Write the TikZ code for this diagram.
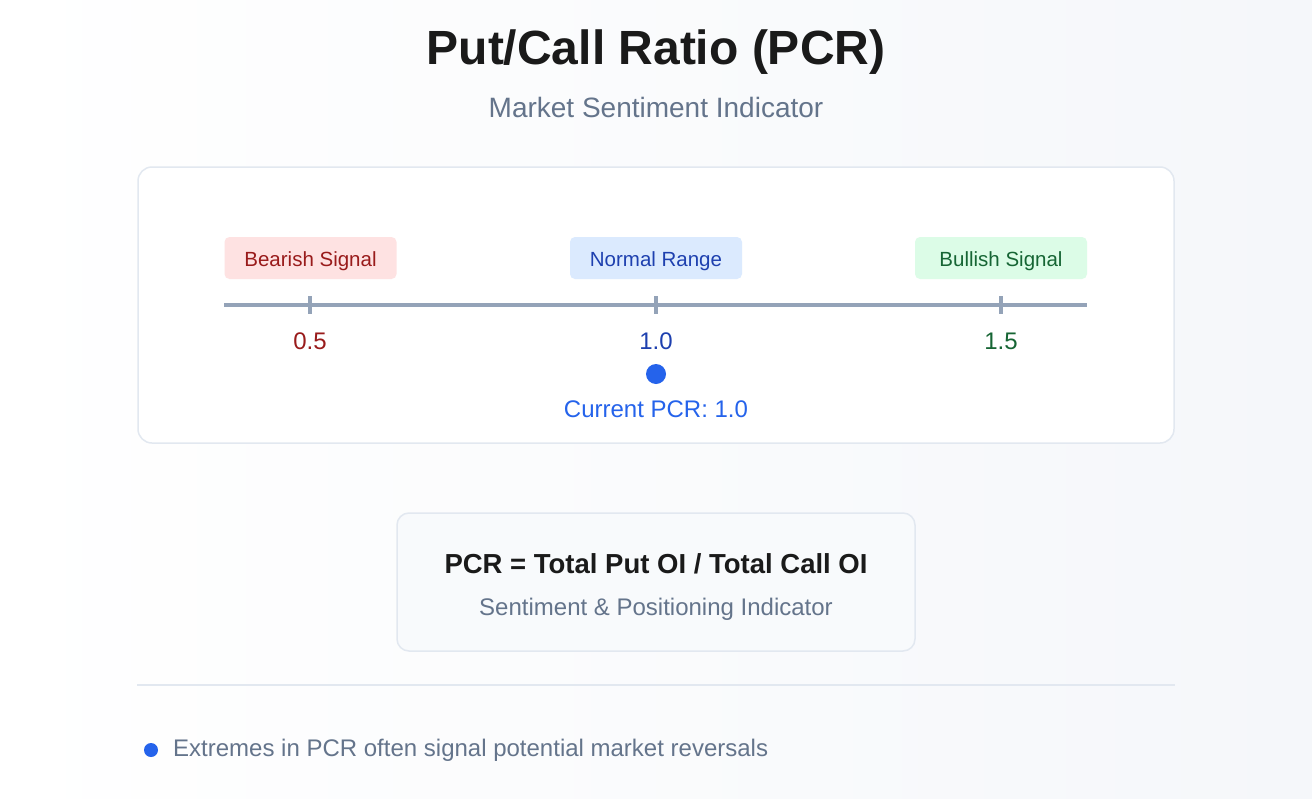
\documentclass[tikz,border=0pt]{standalone}
\usepackage{fontspec}
\setmainfont{Liberation Sans}
\usetikzlibrary{calc}
\definecolor{bgA}{HTML}{FFFFFF}
\definecolor{bgB}{HTML}{F5F7FA}
\definecolor{titlec}{HTML}{1A1A1A}
\definecolor{slate}{HTML}{64748B}
\definecolor{bordc}{HTML}{E2E8F0}
\definecolor{axisc}{HTML}{94A3B8}
\definecolor{redT}{HTML}{991B1B}
\definecolor{redF}{HTML}{FEE2E2}
\definecolor{bluT}{HTML}{1E40AF}
\definecolor{bluF}{HTML}{DBEAFE}
\definecolor{grnT}{HTML}{166534}
\definecolor{grnF}{HTML}{DCFCE7}
\definecolor{accent}{HTML}{2563EB}
\definecolor{formF}{HTML}{F8FAFC}
\newcommand{\fs}[1]{\fontsize{#1}{#1}\selectfont}
\tikzset{
  sigbox/.style={rounded corners=5pt, minimum width=172pt, minimum height=42pt, inner sep=0pt},
  siglbl/.style={font=\fs{20.5}, inner sep=0pt},
  ticklbl/.style={font=\fs{24}, inner sep=0pt},
  tickmark/.style={draw=axisc, line width=3.2pt},
}
\begin{document}
\begin{tikzpicture}[x=1pt,y=-1pt]
\shade[left color=bgA, right color=bgB] (0,0) rectangle (1312,798);
\useasboundingbox (0,0) rectangle (1312,798);
% title
\node[font=\fs{48}\bfseries, text=titlec, inner sep=0pt] (title) at (656,52) {Put/Call Ratio (PCR)};
\node[font=\fs{28}, text=slate, inner sep=0pt] (subtitle) at (656,107) {Market Sentiment Indicator};
% panel
\node[draw=bordc, line width=1.5pt, fill=white, rounded corners=14pt, minimum width=1036pt, minimum height=276pt, inner sep=0pt] (panel) at (656,305) {};
% signal boxes
\node[sigbox, fill=redF] (bear) at (310.5,258) {};
\node[sigbox, fill=bluF] (norm) at (656,258) {};
\node[sigbox, fill=grnF] (bull) at (1001,258) {};
\node[siglbl, text=redT] (bearT) at ($(bear)+(0,3)$) {Bearish Signal};
\node[siglbl, text=bluT] (normT) at ($(norm)+(0,3)$) {Normal Range};
\node[siglbl, text=grnT] (bullT) at ($(bull)+(0,3)$) {Bullish Signal};
% axis
\coordinate (axL) at (224,305);
\coordinate (axR) at (1087,305);
\draw[draw=axisc, line width=3.5pt] (axL) -- (axR);
\coordinate (t1) at (310,305);
\coordinate (t2) at (656,305);
\coordinate (t3) at (1001,305);
\foreach \t in {t1,t2,t3}{
  \draw[tickmark] ($(\t)+(0,-9)$) -- ($(\t)+(0,9)$);
}
\node[ticklbl, text=redT] (l1) at (310,341) {0.5};
\node[ticklbl, text=bluT] (l2) at (656,341) {1.0};
\node[ticklbl, text=grnT] (l3) at (1001,341) {1.5};
% current marker
\node[circle, fill=accent, minimum size=20pt, inner sep=0pt] (dot) at (656,374) {};
\node[font=\fs{24}, text=accent, inner sep=0pt] (cur) at (656,409) {Current PCR: 1.0};
% formula box
\node[draw=bordc, line width=1.5pt, fill=formF, rounded corners=12pt, minimum width=518pt, minimum height=138pt, inner sep=0pt] (formula) at (656,582) {};
\node[font=\fs{27.5}\bfseries, text=titlec, inner sep=0pt] (ftext) at (656,564) {PCR = Total Put OI / Total Call OI};
\node[font=\fs{24}, text=slate, inner sep=0pt] (fsub) at (656,609) {Sentiment \& Positioning Indicator};
% separator
\coordinate (sepL) at (137,685);
\coordinate (sepR) at (1175,685);
\draw[draw=bordc, line width=2.5pt] (sepL) -- (sepR);
% bullet note
\node[circle, fill=accent, minimum size=14pt, inner sep=0pt] (bullet) at (151,750) {};
\node[font=\fs{24}, text=slate, inner sep=0pt, anchor=west] (note) at (173,750) {Extremes in PCR often signal potential market reversals};
\end{tikzpicture}
\end{document}
